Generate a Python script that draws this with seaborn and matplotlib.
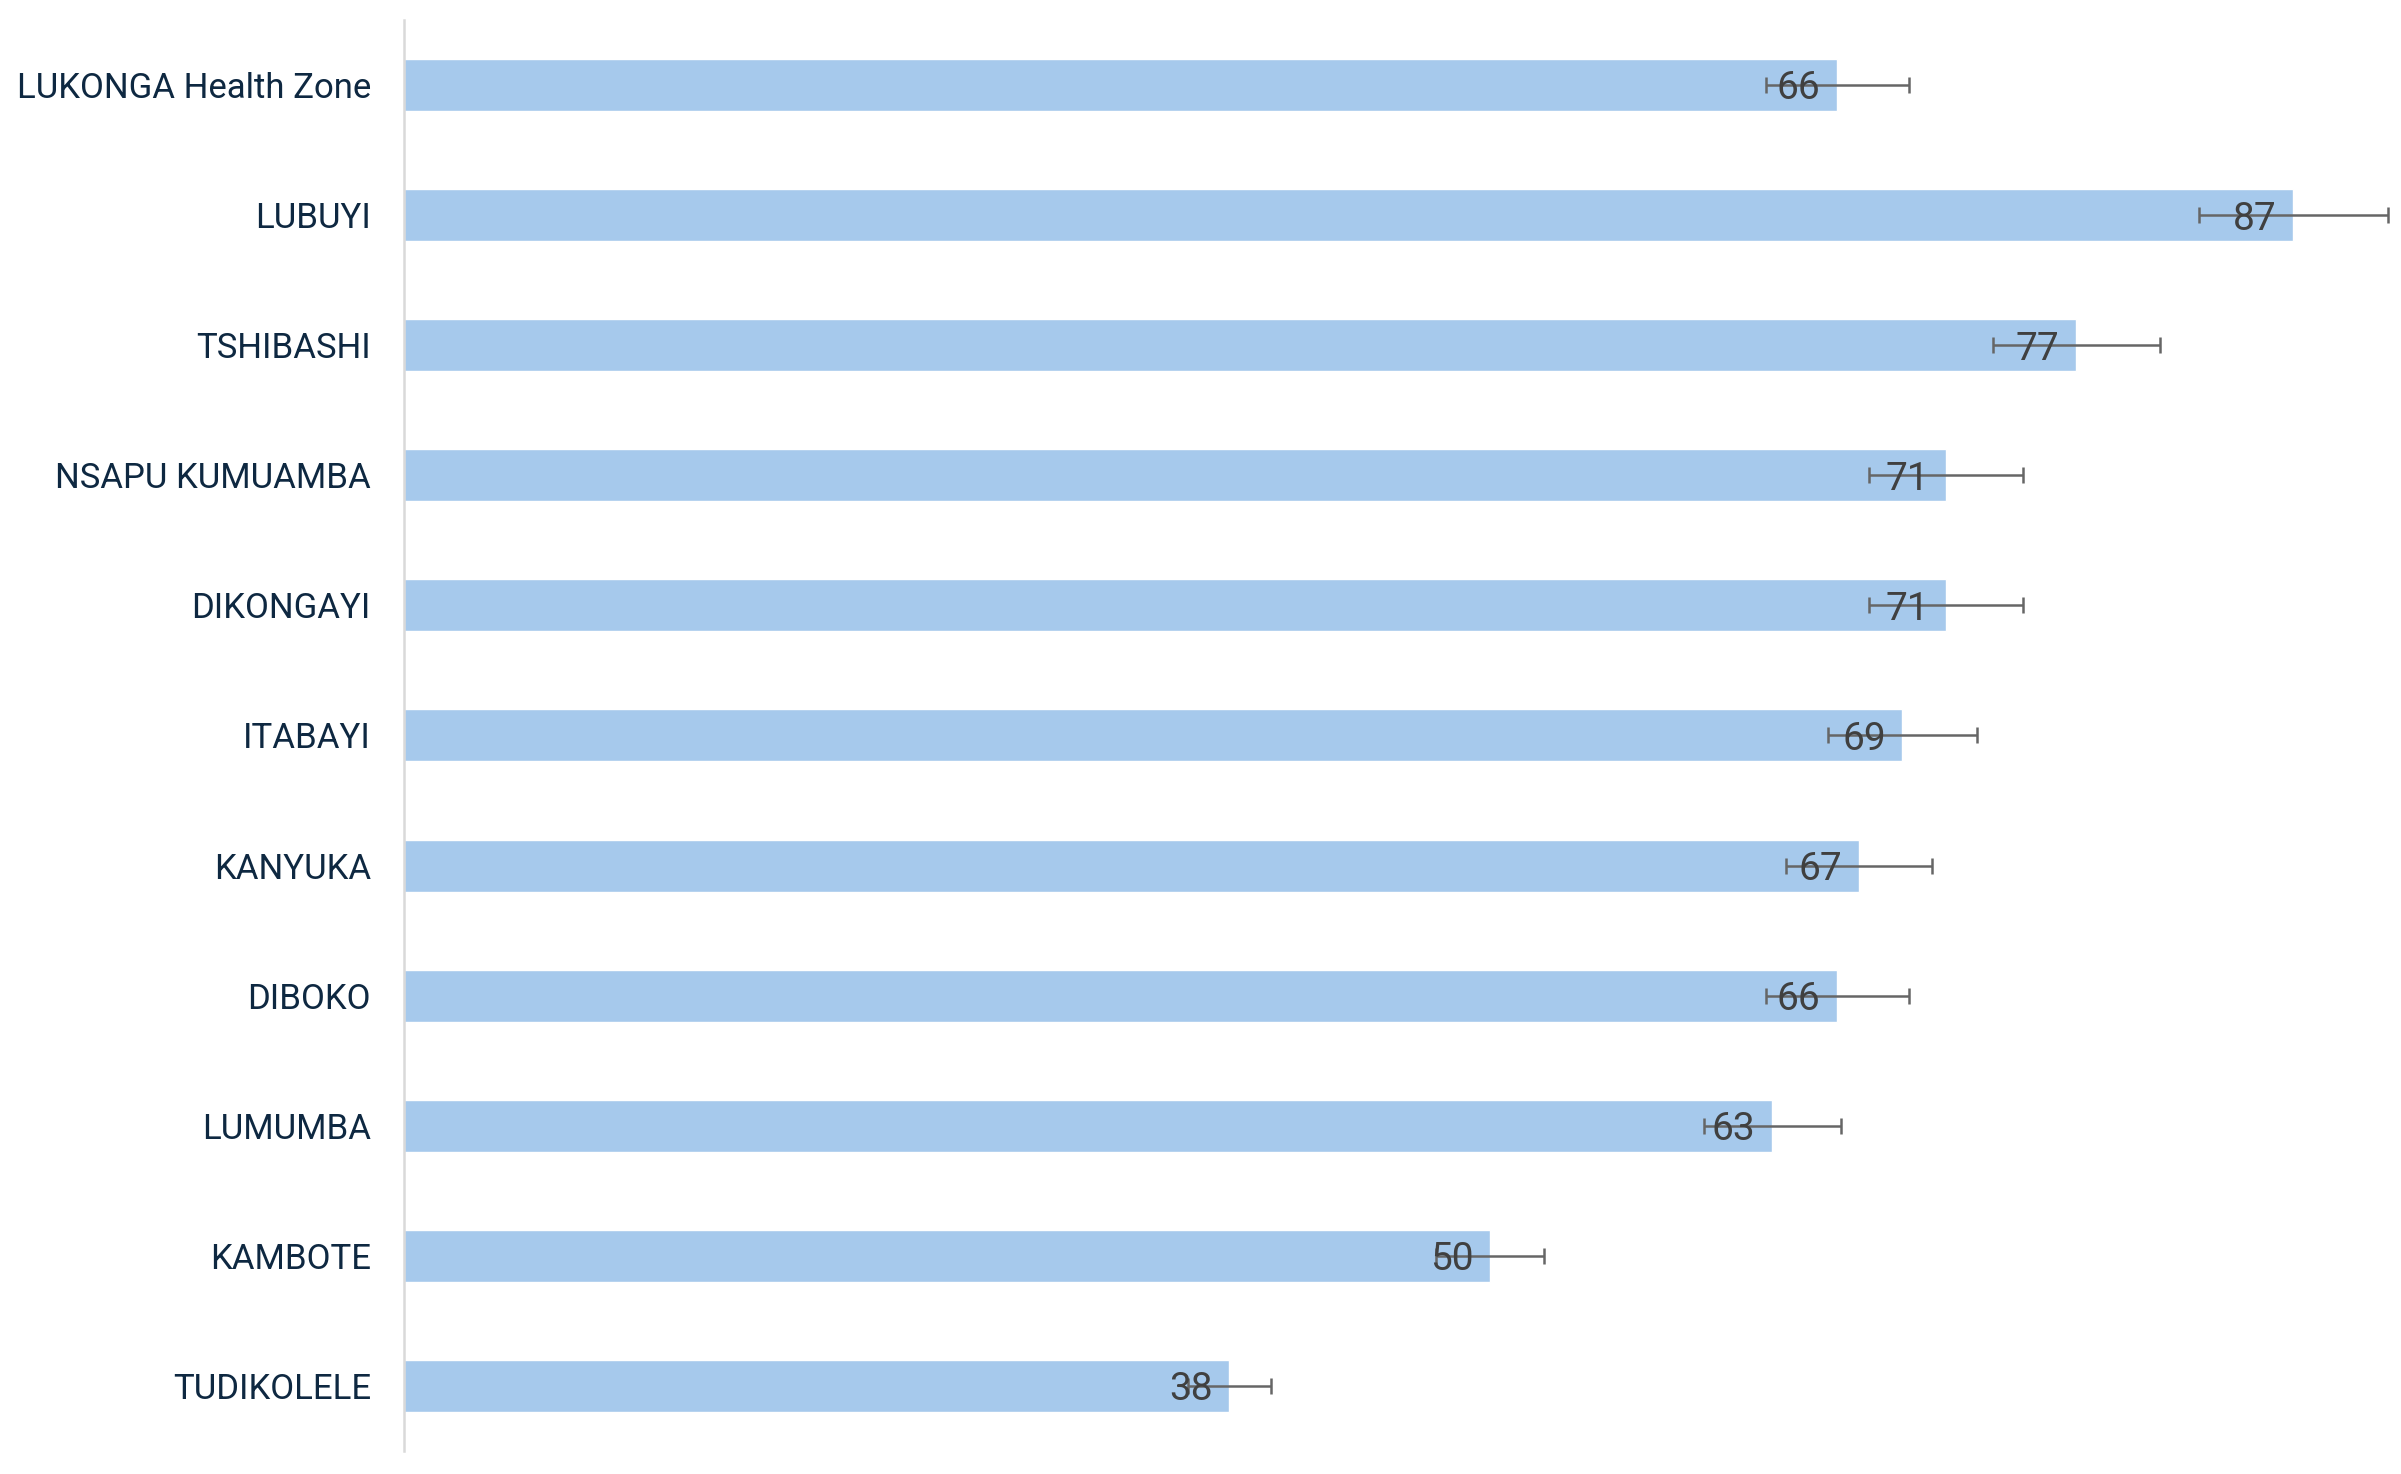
import numpy as np
import pandas as pd
import matplotlib
matplotlib.use('Agg')
import matplotlib.pyplot as plt
import seaborn as sns

# health areas, top to bottom as in the chart
areas = ['LUKONGA Health Zone', 'LUBUYI', 'TSHIBASHI', 'NSAPU KUMUAMBA',
         'DIKONGAYI', 'ITABAYI', 'KANYUKA', 'DIBOKO', 'LUMUMBA',
         'KAMBOTE', 'TUDIKOLELE']
values = [66, 87, 77, 71, 71, 69, 67, 66, 63, 50, 38]
# half-width of the error bars
errors = [3.3, 4.35, 3.85, 3.55, 3.55, 3.45, 3.35, 3.3, 3.15, 2.5, 1.9]

df = pd.DataFrame({'area': areas, 'value': values})

sns.set_theme(style='white')
plt.rcParams['font.family'] = ['Roboto', 'DejaVu Sans']

fig = plt.figure(figsize=(24.01, 14.74), dpi=100)
ax = fig.add_axes([0.1684, 0.0156, 0.8316, 0.9709])

sns.barplot(data=df, x='value', y='area', orient='h', color='#A6C9EC',
            saturation=1, width=0.4, errorbar=None, ax=ax)

ax.errorbar(df['value'], np.arange(len(df)), xerr=errors, fmt='none',
            ecolor='#666666', elinewidth=1.8, capsize=6, capthick=1.8)

labels = ax.bar_label(ax.containers[0], padding=-12, fontsize=28,
                      color='#404040')
for t in labels:
    t.set_ha('right')
    t.set_va('center_baseline')

ax.set_xlim(0, 91.96)
ax.set_ylim(len(df) - 0.5, -0.5)
ax.set_xlabel('')
ax.set_ylabel('')
ax.set_xticks([])
ax.tick_params(axis='y', length=0, pad=24, labelsize=25, labelcolor='#0E2841')

sns.despine(ax=ax, top=True, right=True, bottom=True, left=False)
ax.spines['left'].set_color('#D9D9D9')
ax.spines['left'].set_linewidth(1.8)

fig.savefig('out.png', dpi=100, facecolor='white')
